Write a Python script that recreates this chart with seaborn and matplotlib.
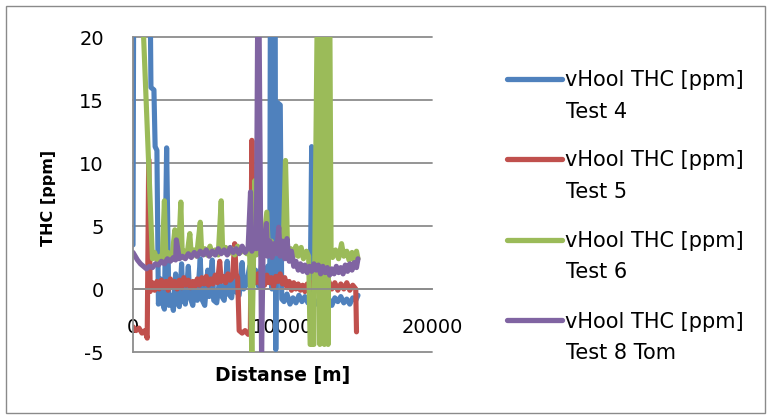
import matplotlib
matplotlib.use("Agg")
import matplotlib.pyplot as plt
from matplotlib.lines import Line2D
from matplotlib.patches import Rectangle
import pandas as pd
import seaborn as sns

# ---- measurement series: distance [m] and THC [ppm] ----
test4_dist = [0, 60, 900, 950, 1100, 1200, 1400, 1480, 1600, 1700, 1850, 1950,
              2100, 2250, 2400, 2550, 2700, 2850, 2950, 3100, 3250, 3350, 3500, 3700, 3800,
              4000, 4150, 4300, 4500, 4600, 4800, 5000, 5100, 5300, 5400, 5600, 5800, 5900,
              6100, 6300, 6400, 6600, 6800, 6900, 7100, 7300, 7400, 7600, 7800, 8000, 8200,
              8400, 8600, 8800, 9000, 9150, 9200, 9300, 9350, 9500, 9550, 9650, 9850, 9950,
              10100, 10300, 10500, 10700, 10900, 11100, 11300, 11500, 11700, 11850, 11950,
              12050, 12250, 12500, 12800, 13100, 13300, 13500, 13700, 13900, 14100, 14300,
              14500, 14700, 14900, 15050]
test4_thc = [3.5, 30, 30, 30, 30, 16.0, 15.8, 11.3, 11.0, -1.2, 0.8, -1.0,
             -1.6, 11.2, -1.3, -0.5, -1.7, 1.2, -1.0, -1.4, 2.0, -0.8, -1.2, 1.8, -0.6,
             -1.3, 0.5, -0.9, 2.4, -0.8, -1.3, 1.5, -0.6, 2.3, -0.9, -1.1, 0.8, -0.5,
             -0.9, 2.2, -0.4, -0.7, 1.5, -0.2, -0.5, 2.1, 0.0, 0.4, 1.8, 0.3, 1.5,
             0.2, 2.0, 0.5, 1.8, 0.6, 30, 0.0, 30, 30, -4.8, 14.8, 14.6, -0.8,
             -1.0, -0.4, -1.2, -0.7, -1.1, -0.5, -1.0, -0.6, -1.1, -0.8, 11.3,
             -0.9, -1.2, -0.7, -1.0, -0.8, -1.3, -0.7, -1.0, -0.6, -1.1, -0.8,
             -1.2, -0.7, -0.9, -0.5]

test5_dist = [0, 200, 400, 600, 800, 950, 1050, 1150, 1300, 1450, 1600, 1750, 1900, 2050,
              2200, 2350, 2500, 2650, 2800, 2950, 3100, 3250, 3400, 3550, 3700, 3850, 4000,
              4150, 4300, 4450, 4600, 4750, 4900, 5050, 5200, 5350, 5500, 5650, 5800, 5900,
              6050, 6200, 6350, 6500, 6650, 6800, 6900, 7000, 7100, 7300, 7500, 7700, 7850,
              7950, 8050, 8200, 8350, 8500, 8650, 8800, 8950, 9100, 9250, 9400, 9550, 9700,
              9850, 10000, 10150, 10300, 10450, 10600, 10750, 10900, 11050, 11200, 11350,
              11500, 11650, 11800, 11950, 12100, 12300, 12500, 12700, 12900, 13100, 13300,
              13500, 13700, 13900, 14100, 14300, 14500, 14700, 14900, 14950]
test5_thc = [-3.0, -3.3, -3.1, -3.5, -3.3, -3.9, 10.3, -0.2, 0.5, -0.1, 0.6, 0.0, 0.7, 0.1,
             0.6, -0.1, 0.8, 0.2, 0.6, 0.0, 0.7, 0.1, 0.9, 0.3, 0.7, 0.1, 0.6,
             0.2, 0.8, 0.3, 0.9, 0.4, 1.0, 0.3, 0.8, 0.4, 1.1, 0.5, 2.2, 0.6,
             1.0, 0.5, 1.2, 0.7, 0.9, 3.6, 1.2, 0.9, -3.3, -3.5, -3.3, -3.6, -3.4,
             11.8, 1.2, 0.5, 1.2, 0.4, 1.0, 0.3, 1.1, 0.5, 0.9, 0.2, 1.0, 0.6,
             1.2, 0.4, 0.9, 0.1, 0.6, -0.1, 0.5, 0.0, 0.4, -0.1, 0.3,
             -0.2, 0.4, 0.0, 0.5, 0.1, 0.6, 0.2, 0.7, 0.1, 0.6, 0.0,
             0.5, -0.1, 0.4, 0.0, 0.5, -0.1, 0.3, 0.0, -3.4]

test6_dist = [450, 700, 1300, 1450, 1600, 1800, 1950, 2100, 2200, 2350, 2500, 2650, 2800,
              2900, 3050, 3200, 3300, 3450, 3600, 3800, 3900, 4100, 4250, 4500, 4600, 4800,
              4950, 5150, 5300, 5500, 5700, 5900, 6000, 6200, 6400, 6600, 6800, 7000, 7200,
              7400, 7600, 7800, 7950, 8150, 8250, 8450, 8650, 8950, 9050, 9250, 9450, 9650,
              9850, 10050, 10200, 10350, 10550, 10700, 10900, 11050, 11250, 11400, 11600,
              11750, 11850, 12100, 12350, 12500, 12650, 12800, 12950, 13050, 13150, 13250,
              13350, 13550, 13750, 13950, 14100, 14300, 14450, 14650, 14800, 14950, 15050]
test6_thc = [30, 20.3, 2.4, 2.9, 2.3, 2.6, 2.3, 7.0, 2.5, 2.9, 2.4, 3.0, 4.7,
             2.6, 2.9, 6.9, 2.5, 3.0, 2.6, 4.4, 2.7, 3.1, 2.6, 5.3, 2.8, 3.2,
             2.7, 3.4, 2.8, 3.1, 2.7, 7.0, 2.9, 3.3, 2.8, 3.2, 2.7, 3.4, 2.9,
             3.2, 2.8, 3.0, -5.3, 8.6, 2.7, 3.6, 2.9, 6.1, 3.0, 3.8, 2.8, 3.5,
             2.9, 3.4, 10.2, 2.6, 3.2, 2.5, 3.4, 2.6, 3.3, 2.4, 3.0,
             2.6, -4.4, -4.4, 25, -4.4, 25, -4.4, 25, -4.4, 25, 2.8,
             2.5, 3.1, 2.4, 3.6, 2.6, 3.0, 2.3, 2.9, 2.2, 3.0, 2.4]

test8_dist = [0, 150, 300, 500, 700, 900, 1100, 1300, 1500, 1700, 1900, 2100, 2300, 2500,
              2700, 2850, 2900, 3100, 3300, 3500, 3700, 3900, 4100, 4300, 4500, 4700, 4900,
              5100, 5300, 5500, 5700, 5900, 6100, 6300, 6500, 6700, 6900, 7100, 7300, 7500,
              7700, 7860, 7950, 8100, 8250, 8380, 8600, 8700, 8930, 9000, 9150, 9300, 9450,
              9600, 9750, 9850, 10000, 10150, 10300, 10450, 10600, 10750, 10900, 11050,
              11200, 11350, 11500, 11650, 11800, 11950, 12100, 12250, 12400, 12550, 12700,
              12850, 13000, 13150, 13300, 13450, 13600, 13750, 13900, 14050, 14200, 14350,
              14500, 14650, 14800, 14950, 15050]
test8_thc = [2.9, 2.6, 2.3, 2.0, 1.8, 1.6, 1.8, 1.7, 2.0, 1.9, 2.2, 2.0, 2.4, 2.2,
             2.5, 2.3, 3.9, 2.4, 2.6, 2.4, 2.8, 2.5, 2.9, 2.6, 3.0, 2.7, 3.1,
             2.6, 3.0, 2.7, 3.2, 2.8, 3.1, 2.7, 3.3, 2.9, 3.2, 2.8, 3.4, 2.9,
             3.3, 7.7, 3.0, 3.6, 3.2, 30, -5.5, 3.0, 5.2, 2.6, 3.8, 2.5, 3.6,
             2.8, 4.9, 2.6, 3.8, 2.4, 4.0, 2.2, 3.0, 1.8, 2.2, 1.5,
             2.0, 1.4, 1.9, 1.3, 1.8, 1.4, 2.0, 1.5, 1.9, 1.2, 1.8,
             1.3, 1.7, 1.1, 1.6, 1.2, 1.8, 1.3, 1.7, 1.2, 1.9, 1.4,
             2.0, 1.5, 2.1, 1.7, 2.4]

series_names = ["Test 4", "Test 5", "Test 6", "Test 8 Tom"]
series_label = "vHool THC [ppm]"
series_colors = ["#4F81BD", "#C0504D", "#9BBB59", "#8064A2"]

x_ticks = [0, 10000, 20000]
y_ticks = [-5, 0, 5, 10, 15, 20]
x_title = "Distanse [m]"
y_title = "THC [ppm]"

frames = []
for name, d, v in zip(series_names,
                      [test4_dist, test5_dist, test6_dist, test8_dist],
                      [test4_thc, test5_thc, test6_thc, test8_thc]):
    frames.append(pd.DataFrame({"dist": d, "thc": v, "series": name}))
df = pd.concat(frames, ignore_index=True)

sns.set_style("white")
plt.rcParams["font.family"] = ["DejaVu Sans"]
plt.rcParams["axes.unicode_minus"] = False
plt.rcParams["text.color"] = "black"
plt.rcParams["axes.labelcolor"] = "black"

W, H = 771, 419
grey = "#8c8c8c"
fig = plt.figure(figsize=(W / 100, H / 100), dpi=100)
ax = fig.add_axes([133 / W, 1 - 352 / H, (432 - 133) / W, (352 - 37) / H])

sns.lineplot(data=df, x="dist", y="thc", hue="series", hue_order=series_names,
             palette=series_colors, estimator=None, sort=False, legend=False,
             linewidth=3.7, solid_capstyle="round", solid_joinstyle="round", ax=ax)

ax.set_xlim(0, 20000)
ax.set_ylim(-5, 20)
ax.set_xticks(x_ticks)
ax.set_yticks(y_ticks)
ax.set_xticklabels([str(t) for t in x_ticks])
ax.set_yticklabels([str(t) for t in y_ticks])

ax.yaxis.grid(True, color=grey, linewidth=1.3)
for gl in ax.get_ygridlines():
    gl.set_clip_on(False)
ax.xaxis.grid(False)
ax.set_axisbelow(True)
for s in ("top", "right"):
    ax.spines[s].set_visible(False)
ax.spines["left"].set_color(grey)
ax.spines["left"].set_linewidth(1.3)
ax.spines["bottom"].set_position(("data", 0))
ax.spines["bottom"].set_color(grey)
ax.spines["bottom"].set_linewidth(1.3)

ax.tick_params(axis="y", direction="out", length=8, width=1.3, color=grey,
               pad=13, labelsize=14, labelcolor="black")
ax.tick_params(axis="x", direction="out", length=6, width=1.3, color=grey,
               pad=15, labelsize=14, labelcolor="black")

ax.set_xlabel(x_title, fontsize=13.5, fontweight="bold", color="black")
ax.set_ylabel(y_title, fontsize=11.5, fontweight="bold", color="black")
ax.xaxis.label.set_va("center")
ax.xaxis.set_label_coords(0.5, (352 - 375) / 315)
ax.yaxis.label.set_va("center")
ax.yaxis.set_label_coords((49 - 133) / 299, (352 - 198) / 315)

# legend, two text lines per entry with the key beside the first line
entry_y = [79, 159, 239.5, 320]
for name, col, y1 in zip(series_names, series_colors, entry_y):
    fig.add_artist(Line2D([507 / W, 562 / W], [1 - y1 / H, 1 - y1 / H],
                          transform=fig.transFigure, color=col, linewidth=3.8,
                          solid_capstyle="round"))
    fig.text(565 / W, 1 - (y1 + 7.5) / H, series_label, fontsize=15,
             ha="left", va="baseline", color="black")
    fig.text(566 / W, 1 - (y1 + 38.5) / H, name, fontsize=15,
             ha="left", va="baseline", color="black")

# chart frame
fig.add_artist(Rectangle((6 / W, 6 / H), 759 / W, 407 / H, transform=fig.transFigure,
                         fill=False, edgecolor="#8a8a8a", linewidth=1.0))

fig.savefig("out.png", dpi=100)
